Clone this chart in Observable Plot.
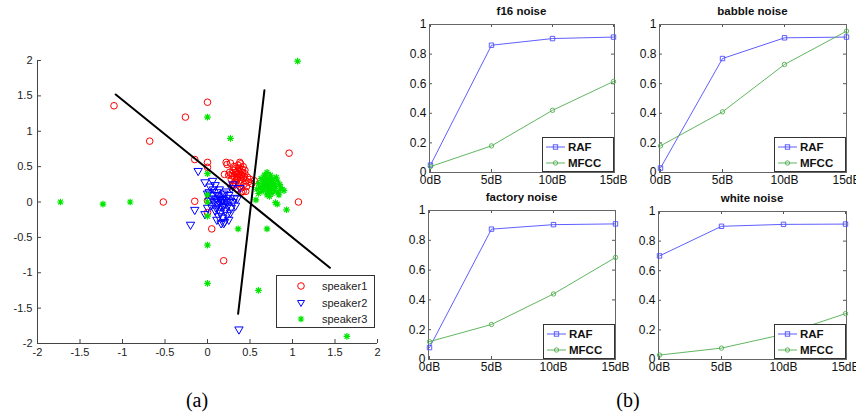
<!DOCTYPE html>
<html><head><meta charset="utf-8">
<script src="https://cdn.jsdelivr.net/npm/d3@7"></script>
<script src="https://cdn.jsdelivr.net/npm/@observablehq/plot@0.6"></script>
<style>
body{margin:0;background:#fff;}
#root{position:relative;width:856px;height:418px;overflow:hidden;font-family:"Liberation Sans",Arial,sans-serif;background:#fff;}
.title{position:absolute;font-weight:bold;font-size:11.5px;line-height:13px;text-align:center;color:#111;white-space:nowrap;}
.leg{position:absolute;background:#fff;border:1px solid #333;box-sizing:border-box;}
.cap{position:absolute;font-family:"Liberation Serif","Times New Roman",serif;font-size:20px;line-height:22px;color:#000;width:60px;text-align:center;}
</style></head><body><div id="root"></div>
<script>
// ---------- Data: panel (a) scatter ----------
const speaker1 = [
  [-1.10,1.36],[0.00,1.41],[-0.26,1.20],[-0.68,0.86],[0.96,0.69],[-0.15,0.60],[0.00,0.56],[0.00,0.49],
  [0.20,0.39],[-0.52,0.00],[-0.15,0.01],[1.07,0.00],[0.05,-0.38],[0.19,-0.83],[0.00,-0.15],[0.22,0.56],
  [0.38,0.56],[0.30,0.25],[0.42,0.15],[0.00,0.02],
  [0.30,0.45],[0.33,0.42],[0.36,0.40],[0.38,0.44],[0.35,0.36],[0.40,0.38],[0.32,0.35],[0.37,0.48],
  [0.42,0.34],[0.34,0.30],[0.39,0.31],[0.44,0.40],[0.29,0.40],[0.31,0.50],[0.36,0.52],[0.41,0.46],
  [0.45,0.30],[0.47,0.35],[0.43,0.25],[0.38,0.26],[0.33,0.25],[0.28,0.32],[0.26,0.42],[0.48,0.28],
  [0.50,0.32],[0.46,0.22],[0.40,0.20],[0.35,0.19],[0.30,0.22],[0.42,0.50],[0.39,0.54],[0.27,0.55],
  [0.23,0.53],[0.52,0.26],[0.36,0.44],[0.34,0.39],[0.37,0.35],[0.41,0.42],[0.32,0.28],[0.44,0.45],
  [0.38,0.38],[0.35,0.33],[0.29,0.37],[0.45,0.15],[0.30,0.25],[0.40,0.14],[0.55,0.30],[0.25,0.38],
  [0.33,0.47],[0.43,0.36]
];
const speaker2 = [
  [-0.11,0.44],[-0.20,-0.32],[-0.15,-0.11],[-0.03,-0.17],[0.37,-1.80],[0.00,0.12],[0.19,-0.30],
  [0.10,0.05],[0.13,0.02],[0.16,0.00],[0.12,-0.03],[0.18,0.04],[0.20,-0.02],[0.08,0.00],[0.14,0.08],
  [0.22,0.06],[0.10,-0.08],[0.17,-0.07],[0.24,-0.05],[0.06,0.10],[0.11,0.14],[0.19,0.12],[0.26,0.02],
  [0.28,-0.08],[0.21,-0.12],[0.15,-0.15],[0.09,-0.12],[0.04,-0.05],[0.05,0.05],[0.25,0.10],[0.30,0.00],
  [0.32,0.06],[0.23,-0.18],[0.18,-0.22],[0.13,-0.20],[0.27,-0.15],[0.20,-0.28],[0.16,-0.30],[0.07,0.18],
  [0.03,0.22],[0.09,0.24],[0.14,0.18],[0.02,0.02],[0.00,-0.08],[0.33,-0.05],[0.12,0.10],[0.17,0.03],
  [0.35,0.05],[0.22,0.15],[0.28,0.20],[0.30,0.25],[0.38,0.20],[0.25,-0.25],[0.11,-0.25],[-0.03,0.28],
  [0.06,0.30],[0.02,0.14],[0.15,0.05],[0.19,-0.05],[0.13,-0.10],[0.23,0.00]
];
const speaker3 = [
  [-1.73,0.00],[-1.23,-0.03],[-0.91,0.00],[0.00,1.20],[0.27,0.90],[1.06,1.99],[0.00,0.40],[0.00,0.10],
  [0.00,0.00],[0.00,-0.20],[0.00,-0.61],[0.00,-1.15],[0.36,-0.38],[0.70,-0.38],[0.60,-1.25],[1.64,-1.90],
  [0.93,-0.11],[0.80,-0.01],[0.82,-0.03],[0.57,0.03],
  [0.70,0.25],[0.73,0.28],[0.68,0.22],[0.75,0.20],[0.72,0.32],[0.66,0.30],[0.78,0.26],[0.80,0.22],
  [0.71,0.18],[0.65,0.24],[0.69,0.35],[0.74,0.38],[0.70,0.42],[0.77,0.33],[0.82,0.30],[0.85,0.25],
  [0.88,0.18],[0.83,0.14],[0.76,0.12],[0.70,0.10],[0.64,0.15],[0.62,0.20],[0.60,0.26],[0.67,0.38],
  [0.79,0.16],[0.73,0.08],[0.81,0.35],[0.86,0.20],[0.90,0.16],[0.63,0.33],[0.72,0.22],[0.75,0.30],
  [0.68,0.28],[0.77,0.24],[0.66,0.18],[0.71,0.14],[0.84,0.10],[0.60,0.12],[0.58,0.18],[0.74,0.16]
];
const boundary1 = [[-1.08,1.52],[1.44,-0.93]];
const boundary2 = [[0.36,-1.58],[0.67,1.58]];
const scatterTicks = [-2,-1.5,-1,-0.5,0,0.5,1,1.5,2];
const speakerNames = ["speaker1","speaker2","speaker3"];

// ---------- Data: panel (b) recognition rates ----------
const snrLabels = ["0dB","5dB","10dB","15dB"];
const rateTicks = [0,0.2,0.4,0.6,0.8,1];
const seriesNames = ["RAF","MFCC"];
const f16RAF      = [0.05,0.86,0.905,0.915];
const f16MFCC     = [0.04,0.18,0.42,0.615];
const babbleRAF   = [0.03,0.77,0.91,0.915];
const babbleMFCC  = [0.18,0.41,0.73,0.955];
const factoryRAF  = [0.08,0.875,0.905,0.91];
const factoryMFCC = [0.12,0.235,0.44,0.685];
const whiteRAF    = [0.70,0.90,0.913,0.915];
const whiteMFCC   = [0.03,0.077,0.17,0.31];

// ---------- Rendering ----------
const root = document.getElementById("root");
const FONT = "Liberation Sans, Arial, sans-serif";
const RED="#ff0000", BLUE="#0000ff", GREEN="#00e600";
const RAFC = "#4d4dff", MFCCC = "#4fae4f";
function place(el, left, top){ el.style.position="absolute"; el.style.left=left+"px"; el.style.top=top+"px"; root.appendChild(el); return el; }

// MATLAB-like '*' marker: plus + cross
const star8 = {draw(ctx, size){
  const r = Math.sqrt(size/Math.PI)*1.15, d = r*0.72;
  ctx.moveTo(-r,0); ctx.lineTo(r,0); ctx.moveTo(0,-r); ctx.lineTo(0,r);
  ctx.moveTo(-d,-d); ctx.lineTo(d,d); ctx.moveTo(-d,d); ctx.lineTo(d,-d);
}};

// Scatter (a)
{
  const W=400,H=330,mL=37,mR=23,mT=20,mB=27;
  const fw=W-mL-mR, fh=H-mT-mB;
  const fmt = d => String(d);
  const svg = Plot.plot({
    width:W,height:H,marginLeft:mL,marginRight:mR,marginTop:mT,marginBottom:mB,
    style:{background:"transparent",overflow:"visible",fontSize:"11px",fontFamily:FONT,color:"#222"},
    x:{domain:[-2,2]}, y:{domain:[-2,2]},
    marks:[
      Plot.axisX(scatterTicks,{tickSize:0,tickPadding:5,tickFormat:fmt,label:null}),
      Plot.axisY(scatterTicks,{tickSize:0,tickPadding:5,tickFormat:fmt,label:null}),
      Plot.tickX(scatterTicks,{x:d=>d,insetTop:fh-4,stroke:"#444"}),
      Plot.tickY(scatterTicks,{y:d=>d,insetRight:fw-4,stroke:"#444"}),
      Plot.ruleX([-2],{stroke:"#444"}),
      Plot.ruleY([-2],{stroke:"#444"}),
      Plot.dot(speaker1,{x:d=>d[0],y:d=>d[1],r:3.3,stroke:RED,fill:"none",strokeWidth:1}),
      Plot.dot(speaker2,{x:d=>d[0],y:d=>d[1],symbol:"triangle",rotate:180,r:3.1,stroke:BLUE,fill:"none",strokeWidth:1}),
      Plot.dot(speaker3,{x:d=>d[0],y:d=>d[1],symbol:star8,r:2.9,stroke:GREEN,strokeWidth:1.2}),
      Plot.line(boundary1,{x:d=>d[0],y:d=>d[1],stroke:"#000",strokeWidth:2}),
      Plot.line(boundary2,{x:d=>d[0],y:d=>d[1],stroke:"#000",strokeWidth:2})
    ]
  });
  place(svg,0,40);
  const leg = document.createElement("div"); leg.className="leg";
  leg.style.width="99px"; leg.style.height="53px";
  const markers = [
    `<circle cx="24" cy="10" r="3.3" fill="none" stroke="${RED}"/>`,
    `<path d="M20.5,24.5 L27.5,24.5 L24,30.5 Z" fill="none" stroke="${BLUE}"/>`,
    `<g stroke="${GREEN}" stroke-width="1.2"><path d="M20.7,43 h6.6 M24,39.7 v6.6 M21.6,40.6 l4.8,4.8 M21.6,45.4 l4.8,-4.8"/></g>`
  ];
  const ys=[10,27,43];
  leg.innerHTML = `<svg width="97" height="51" style="display:block">`+
    speakerNames.map((n,i)=>markers[i]+`<text x="45" y="${ys[i]+4}" font-family="${FONT}" font-size="11" fill="#222">${n}</text>`).join("")+`</svg>`;
  place(leg,276,275);
}

// Line panels (b)
function panel(title, raf, mfcc, fl, ft, fr, fb){
  const fw=fr-fl, fh=fb-ft;
  const mL=40,mR=20,mT=2,mB=22;
  const rows = snrLabels.map((s,i)=>({snr:s, RAF:raf[i], MFCC:mfcc[i]}));
  const fmt = d => String(d);
  const svg = Plot.plot({
    width:fw+mL+mR,height:fh+mT+mB,marginLeft:mL,marginRight:mR,marginTop:mT,marginBottom:mB,
    style:{background:"transparent",overflow:"visible",fontSize:"12px",fontFamily:FONT,color:"#111"},
    x:{type:"point",domain:snrLabels,padding:0},
    y:{domain:[0,1]},
    marks:[
      Plot.axisX(snrLabels,{tickSize:0,tickPadding:3,label:null}),
      Plot.axisY(rateTicks,{tickSize:0,tickPadding:3,tickFormat:fmt,label:null}),
      Plot.tickX(snrLabels,{x:d=>d,insetTop:fh-3,stroke:"#555"}),
      Plot.tickX(snrLabels,{x:d=>d,insetBottom:fh-3,stroke:"#555"}),
      Plot.tickY(rateTicks,{y:d=>d,insetRight:fw-3,stroke:"#555"}),
      Plot.tickY(rateTicks,{y:d=>d,insetLeft:fw-3,stroke:"#555"}),
      Plot.frame({stroke:"#666"}),
      Plot.line(rows,{x:"snr",y:"RAF",stroke:RAFC,strokeWidth:0.9}),
      Plot.dot(rows,{x:"snr",y:"RAF",symbol:"square",r:2.5,stroke:RAFC,fill:"none",strokeWidth:0.9}),
      Plot.line(rows,{x:"snr",y:"MFCC",stroke:MFCCC,strokeWidth:0.9}),
      Plot.dot(rows,{x:"snr",y:"MFCC",r:2.2,stroke:MFCCC,fill:"none",strokeWidth:0.9})
    ]
  });
  place(svg, fl-mL, ft-mT);
  const t = document.createElement("div"); t.className="title"; t.textContent=title;
  t.style.width=fw+"px"; place(t, fl, ft-19.5);
  const leg = document.createElement("div"); leg.className="leg";
  leg.style.width="72px"; leg.style.height="35px";
  const cols=[RAFC,MFCCC], yy=[9,25];
  leg.innerHTML = `<svg width="70" height="33" style="display:block">`+
    seriesNames.map((n,i)=>`<line x1="3" x2="22" y1="${yy[i]}" y2="${yy[i]}" stroke="${cols[i]}" stroke-width="0.9"/>`+
      (i===0?`<rect x="10.3" y="${yy[i]-2.2}" width="4.4" height="4.4" fill="none" stroke="${cols[i]}" stroke-width="0.9"/>`
            :`<circle cx="12.5" cy="${yy[i]}" r="2.2" fill="none" stroke="${cols[i]}" stroke-width="0.9"/>`)+
      `<text x="25" y="${yy[i]+4}" font-family="${FONT}" font-size="11.5" font-weight="bold" fill="#111">${n}</text>`).join("")+`</svg>`;
  place(leg, fr-72, fb-35);
}
panel("f16 noise", f16RAF, f16MFCC, 429, 24, 614, 172);
panel("babble noise", babbleRAF, babbleMFCC, 659, 24, 846, 172);
panel("factory noise", factoryRAF, factoryMFCC, 428, 210, 615, 359);
panel("white noise", whiteRAF, whiteMFCC, 658, 211, 846, 359);

const ca=document.createElement("div"); ca.className="cap"; ca.textContent="(a)"; place(ca,167,389);
const cb=document.createElement("div"); cb.className="cap"; cb.textContent="(b)"; place(cb,598,389);
</script></body></html>
